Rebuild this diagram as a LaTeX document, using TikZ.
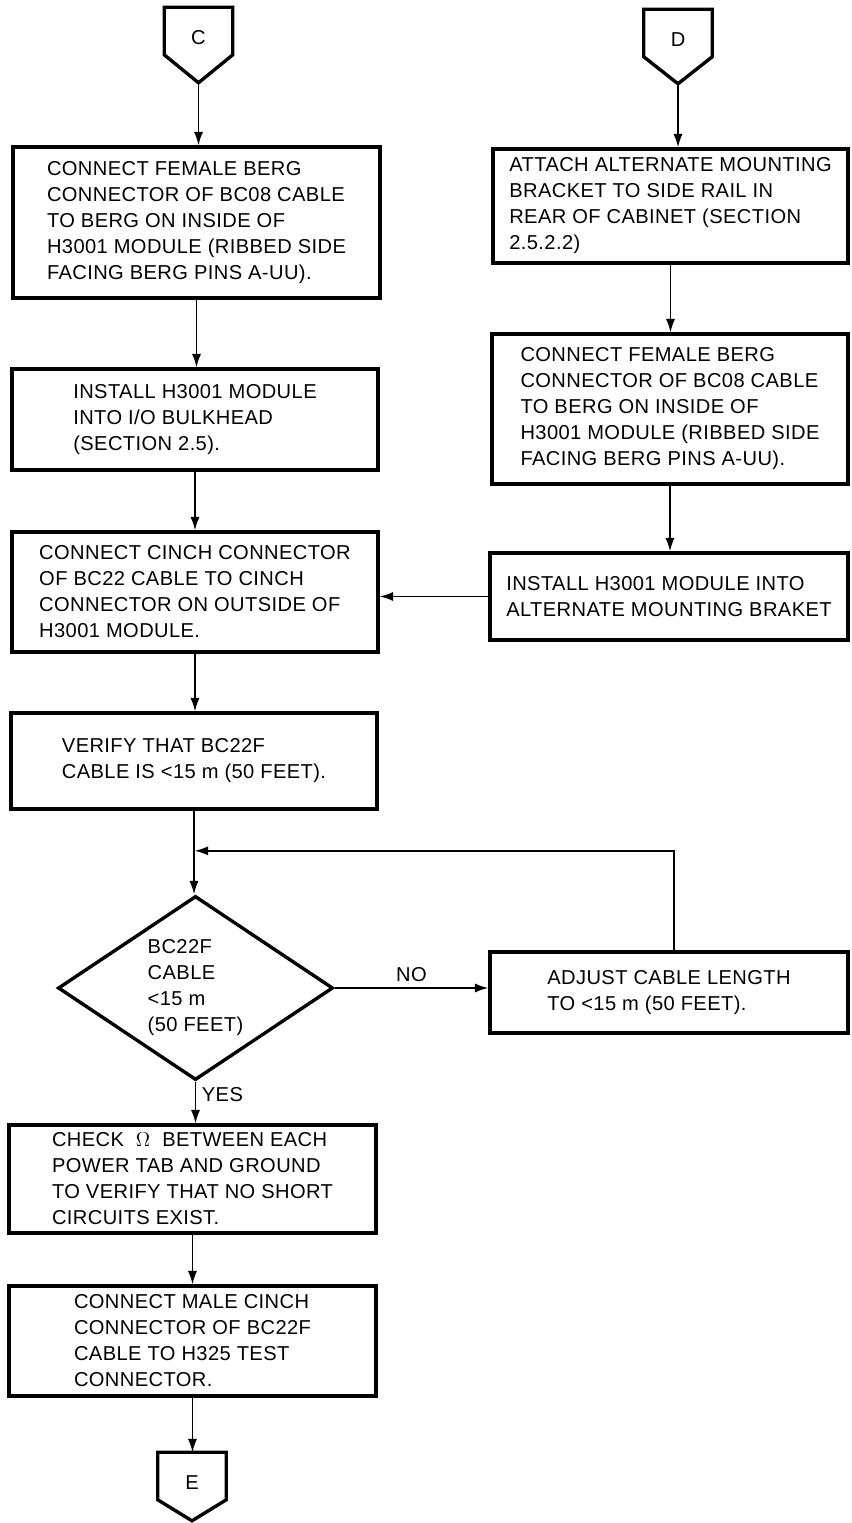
\documentclass[tikz,border=0pt]{standalone}
\usepackage{fontspec}
\setmainfont[LetterSpace=2]{Liberation Sans}
\usetikzlibrary{shapes.geometric,arrows.meta,calc}

\begin{document}
\begin{tikzpicture}[x=0.025cm,y=-0.025cm,>={Latex[length=9.5pt,width=6.5pt]},line width=1.1pt,font=\fontsize{14.3}{18.5}\selectfont,step box/.style={draw,line width=2.4pt,align=left,inner sep=0pt},test node/.style={diamond,draw,line width=2.4pt,aspect=1.5,align=left,inner sep=0pt,minimum width=6.875cm,minimum height=4.6cm}]
\tikzstyle{page link} = [inner sep=0pt,minimum width=1.675cm,minimum height=1.15cm,text height=1.9em,text depth=0pt]
\useasboundingbox (0,0) rectangle (851,1523);

% Off-page connectors
\node[page link] (C) at (198.5,31) {C};
\node[page link] (D) at (678,33) {D};
\node[page link] (E) at (192,1476) {E};
\coordinate (Ctip) at ($(C.south)+(0,28)$);
\coordinate (Dtip) at ($(D.south)+(0,27)$);
\coordinate (Etip) at ($(E.south)+(0,21)$);
\draw[line width=2.4pt] (C.north west) -- (C.north east) -- (C.south east) -- (Ctip) -- (C.south west) -- cycle;
\draw[line width=2.4pt] (D.north west) -- (D.north east) -- (D.south east) -- (Dtip) -- (D.south west) -- cycle;
\draw[line width=2.4pt] (E.north west) -- (E.north east) -- (E.south east) -- (Etip) -- (E.south west) -- cycle;

% Left column
\node[step box,minimum width=9.175cm,minimum height=3.775cm] (berg1) at (196.5,222.5) {CONNECT FEMALE BERG\\CONNECTOR OF BC08 CABLE\\TO BERG ON INSIDE OF\\H3001 MODULE (RIBBED SIDE\\FACING BERG PINS A-UU).};
\node[step box,minimum width=9.15cm,minimum height=2.525cm] (bulk) at (195,419.5) {INSTALL H3001 MODULE\\INTO I/O BULKHEAD\\(SECTION 2.5).};
\node[step box,minimum width=9.15cm,minimum height=3cm] (cinch) at (195,592) {CONNECT CINCH CONNECTOR\\OF BC22 CABLE TO CINCH\\CONNECTOR ON OUTSIDE OF\\H3001 MODULE.};
\node[step box,minimum width=9.15cm,minimum height=2.4cm] (verify) at (194,761) {VERIFY THAT BC22F\\CABLE IS <15 m (50 FEET).};
\node[test node] (check) at (195.5,988) {BC22F\\CABLE\\<15 m\\(50 FEET)};
\node[step box,minimum width=9.175cm,minimum height=2.7cm] (ohm) at (192.5,1179) {CHECK\ \ $\Omega$\ \ BETWEEN EACH\\POWER TAB AND GROUND\\TO VERIFY THAT NO SHORT\\CIRCUITS EXIST.};
\node[step box,minimum width=9.175cm,minimum height=2.75cm] (male) at (192.5,1341) {CONNECT MALE CINCH\\CONNECTOR OF BC22F\\CABLE TO H325 TEST\\CONNECTOR.};

% Right column
\node[step box,minimum width=8.875cm,minimum height=2.85cm] (attach) at (670.5,206) {ATTACH ALTERNATE MOUNTING\\BRACKET TO SIDE RAIL IN\\REAR OF CABINET (SECTION\\2.5.2.2)};
\node[step box,minimum width=8.9cm,minimum height=3.75cm] (berg2) at (670,409) {CONNECT FEMALE BERG\\CONNECTOR OF BC08 CABLE\\TO BERG ON INSIDE OF\\H3001 MODULE (RIBBED SIDE\\FACING BERG PINS A-UU).};
\node[step box,minimum width=8.95cm,minimum height=2.175cm] (bracket) at (669,596.5) {INSTALL H3001 MODULE INTO\\ALTERNATE MOUNTING BRAKET};
\node[step box,minimum width=8.95cm,minimum height=2.025cm] (adjust) at (669,992.5) {ADJUST CABLE LENGTH\\TO <15 m (50 FEET).};

% Draw flow lines
\coordinate (merge) at ($(verify.south)!0.48!(check.north)$);
\draw[->] (Ctip) -- (Ctip |- berg1.north);
\draw[->] (berg1.south) -- (berg1.south |- bulk.north);
\draw[->] (bulk.south) -- (bulk.south |- cinch.north);
\draw[->] (cinch.south) -- (cinch.south |- verify.north);
\draw[->] (verify.south) -- (verify.south |- check.north);
\draw[->] (check.south) -- (check.south |- ohm.north) node[pos=0.3,right,inner sep=4pt] {YES};
\draw[->] (ohm.south) -- (ohm.south |- male.north);
\draw[->] (male.south) -- (male.south |- E.north);

\draw[->] (Dtip) -- (Dtip |- attach.north);
\draw[->] (attach.south) -- (attach.south |- berg2.north);
\draw[->] (berg2.south) -- (berg2.south |- bracket.north);
\draw[->] (bracket.west) -- (bracket.west -| cinch.east);

% Retry loop
\draw[->] (check.east) -- (check.east -| adjust.west) node[midway,above,inner sep=4pt] {NO};
\draw[->] ([xshift=0.125cm]adjust.north) |- (merge);

\end{tikzpicture}
\end{document}
